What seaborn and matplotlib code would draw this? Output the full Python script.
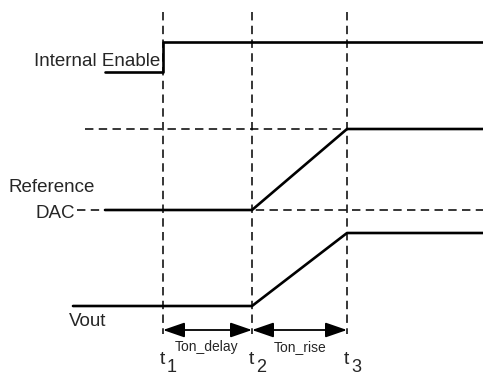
import pandas as pd
import seaborn as sns
import matplotlib.pyplot as plt

# event times (x) and signal levels (y), in picture units
t_digits = ["1", "2", "3"]
t_times = [163, 252, 347]
x_start_enable = 105
x_start_ref = 105
x_start_vout = 73
x_end = 483

enable_low, enable_high = 72, 42
ref_low, ref_high = 210, 129
vout_low, vout_high = 306, 233

sns.set_theme(style="white")
plt.rcParams["font.family"] = ["Liberation Sans", "DejaVu Sans"]

# Build the three traces
enable = pd.DataFrame({
    "x": [x_start_enable, t_times[0], t_times[0], x_end],
    "y": [enable_low, enable_low, enable_high, enable_high],
})
reference = pd.DataFrame({
    "x": [x_start_ref, t_times[1], t_times[2], x_end],
    "y": [ref_low, ref_low, ref_high, ref_high],
})
vout = pd.DataFrame({
    "x": [x_start_vout, t_times[1], t_times[2], x_end],
    "y": [vout_low, vout_low, vout_high, vout_high],
})

fig = plt.figure(figsize=(4.83, 3.75), dpi=100)
ax = fig.add_axes([0, 0, 1, 1])

dash = dict(color="black", lw=1.1, dashes=(5.5, 3.5))

# dashed guides
for t in t_times:
    ax.plot([t, t], [12, 334], **dash)
ax.plot([85, x_end], [ref_high, ref_high], **dash)
ax.plot([77, x_end], [ref_low, ref_low], **dash)

for df in [enable, reference, vout]:
    sns.lineplot(data=df, x="x", y="y", sort=False, color="black",
                 linewidth=1.9, ax=ax, estimator=None)

# interval arrows
arrow_y = 330
for a, b in zip(t_times[:-1], t_times[1:]):
    ax.annotate("", xy=(a, arrow_y), xytext=(b, arrow_y),
                arrowprops=dict(arrowstyle="<|-|>,head_length=1.1,head_width=0.38",
                                color="black", lw=1.3, shrinkA=0, shrinkB=0))
ax.text(207, 347, "Ton_delay", fontsize=10, ha="center", va="center")
ax.text(300, 347, "Ton_rise", fontsize=10, ha="center", va="center")

for d, t in zip(t_digits, t_times):
    ax.text(t - 1, 360, "t", fontsize=14, ha="center", va="center")
    ax.text(t + 9, 368, d, fontsize=13, ha="center", va="center")

# signal labels
ax.text(160, 62, "Internal Enable", fontsize=13.5, ha="right", va="center")
ax.text(9, 187, "Reference", fontsize=13.5, ha="left", va="center")
ax.text(75, 213, "DAC", fontsize=13.5, ha="right", va="center")
ax.text(69, 322, "Vout", fontsize=13.5, ha="left", va="center")

ax.set_xlim(0, 483)
ax.set_ylim(375, 0)
ax.axis("off")
fig.savefig("out.png", dpi=100, facecolor="white")
